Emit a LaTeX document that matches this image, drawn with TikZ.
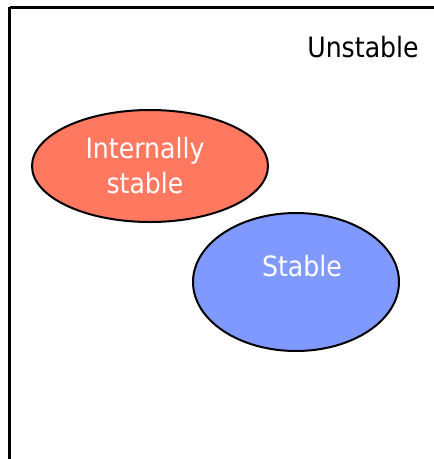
\documentclass[tikz,border=0pt]{standalone}
\usepackage{fontspec}
\setmainfont{DejaVu Sans Condensed}
\definecolor{redfill}{HTML}{FF785F}
\definecolor{bluefill}{HTML}{8099FF}
\tikzset{
  setbox/.style={draw=black, line width=3pt},
  blob/.style={ellipse, draw=black, line width=2pt, text=white, align=center, font=\fontsize{28}{32}\selectfont},
  lbl/.style={font=\fontsize{28}{32}\selectfont, text=black}
}
\usetikzlibrary{shapes.geometric}
\begin{document}
\begin{tikzpicture}[x=1pt,y=-1pt]
\useasboundingbox (0,0) rectangle (434,459);
\draw[setbox] (9.5,7) -- (445,7) (9.5,7) -- (9.5,470);
\node[lbl] (unst) at (363,47) {Unstable};
\node[blob, fill=redfill, minimum width=236pt, minimum height=112pt, inner sep=0pt] (intst) at (150,166) {};
\node[text=white, align=center, font=\fontsize{28}{35}\selectfont] (intlbl) at (145,166) {Internally\\stable};
\node[blob, fill=bluefill, minimum width=206pt, minimum height=138pt, inner sep=0pt] (stab) at (296,282) {};
\node[text=white, font=\fontsize{28}{32}\selectfont] (stablbl) at (302,266) {Stable};
\end{tikzpicture}
\end{document}
